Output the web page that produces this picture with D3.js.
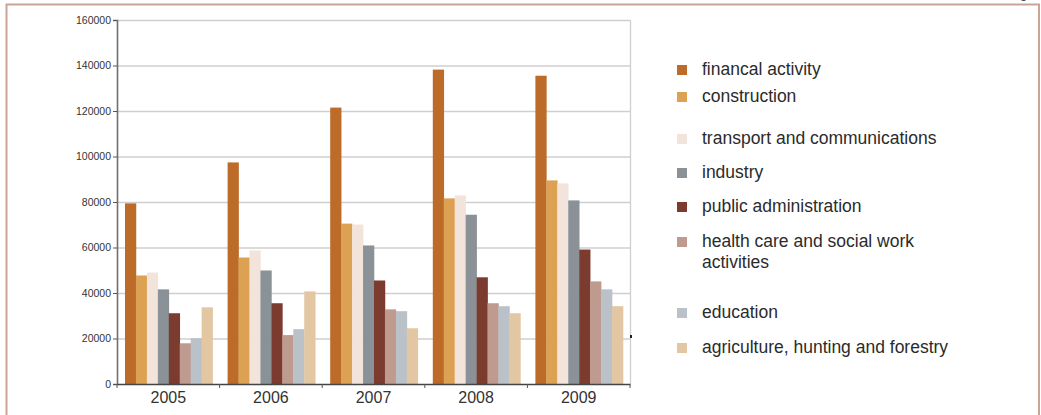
<!DOCTYPE html>
<html><head><meta charset="utf-8">
<script src="https://cdn.jsdelivr.net/npm/d3@7"></script>
<style>
html,body{margin:0;padding:0;background:#fff;}
svg{display:block;font-family:"Liberation Sans",Arial,sans-serif;}
</style></head>
<body><svg id="c" width="1041" height="415"></svg>
<script>
const years = ["2005","2006","2007","2008","2009"];
const seriesNames = ["financal activity","construction","transport and communications","industry","public administration","health care and social work activities","education","agriculture, hunting and forestry"];
const seriesColors = ["#BC6C28","#DDA153","#F3E4DB","#8A9197","#7B3B2E","#BF9B8F","#BAC1C8","#E3C6A2"];
const financial = [79400, 97400, 121500, 138200, 135500];
const construction = [47700, 55600, 70500, 81600, 89500];
const transport = [49000, 58700, 70100, 82900, 88200];
const industry = [41600, 49900, 60900, 74400, 80700];
const publicAdmin = [31100, 35500, 45500, 46900, 59100];
const health = [17900, 21500, 32800, 35500, 45100];
const education = [20100, 24100, 32000, 34200, 41600];
const agriculture = [33700, 40700, 24500, 31100, 34200];
const yTicks = [0,20000,40000,60000,80000,100000,120000,140000,160000];

const seriesValues = [financial, construction, transport, industry, publicAdmin, health, education, agriculture];

(function(){
const svg = d3.select("#c");

// outer frame
svg.append("rect").attr("x",6.5).attr("y",4.5).attr("width",1032.5).attr("height",420)
  .attr("fill","none").attr("stroke","#C9A497").attr("stroke-width",2);
svg.append("text").attr("x",1020).attr("y",-2).attr("font-size",13).attr("fill","#333").text("g");

const pLeft = 117, pRight = 630, pTop = 20, pBottom = 384;
const x0 = d3.scaleBand().domain(years).range([pLeft, pRight]).paddingInner(0).paddingOuter(0);
const x1 = d3.scaleBand().domain(d3.range(seriesNames.length)).range([8, x0.bandwidth()-7]).padding(0);
const y = d3.scaleLinear().domain([0,160000]).range([pBottom, pTop]);

// gridlines
svg.append("g").selectAll("line").data(yTicks.slice(1)).join("line")
  .attr("x1",pLeft).attr("x2",pRight).attr("y1",d=>y(d)+0.5).attr("y2",d=>y(d)+0.5)
  .attr("stroke","#cfcfcf").attr("stroke-width",1.3);
// right border
svg.append("line").attr("x1",pRight+0.5).attr("x2",pRight+0.5).attr("y1",pTop).attr("y2",pBottom)
  .attr("stroke","#cfcfcf").attr("stroke-width",1.3);

// bars
const g = svg.append("g");
years.forEach((yr,i)=>{
  seriesValues.forEach((vals,s)=>{
    g.append("rect")
      .attr("x", x0(yr)+x1(s))
      .attr("width", x1.bandwidth()+0.3)
      .attr("y", y(vals[i]))
      .attr("height", pBottom - y(vals[i]))
      .attr("fill", seriesColors[s]);
  });
});

// y axis
const yAxis = d3.axisLeft(y).tickValues(yTicks).tickSize(4).tickPadding(2).tickFormat(d3.format("d"));
const ya = svg.append("g").attr("transform",`translate(${pLeft},0)`).call(yAxis);
ya.select(".domain").attr("stroke","#707070").attr("stroke-width",1.6);
ya.selectAll(".tick line").attr("stroke","#555");
ya.selectAll(".tick text").attr("font-size",10.5).attr("fill","#333").attr("font-family","Liberation Sans, Arial, sans-serif");

// x axis
const xAxis = d3.axisBottom(x0).tickSize(0).tickPadding(8);
const xa = svg.append("g").attr("transform",`translate(0,${pBottom})`).call(xAxis);
xa.select(".domain").attr("stroke","#444").attr("stroke-width",1.4);
xa.selectAll(".tick text").attr("font-size",16).attr("fill","#333").attr("font-family","Liberation Sans, Arial, sans-serif");
// category boundary ticks
svg.append("g").selectAll("line").data(years.concat(["end"])).join("line")
  .attr("x1",d=> d==="end"? pRight : x0(d)).attr("x2",d=> d==="end"? pRight : x0(d))
  .attr("y1",pBottom).attr("y2",pBottom+4).attr("stroke","#555").attr("stroke-width",1);

// small mark at right
svg.append("rect").attr("x",630).attr("y",335).attr("width",2).attr("height",3).attr("fill","#222");

// legend
const legendY = [70, 97, 139, 173, 207, 242, 313, 348];
const lg = svg.append("g");
seriesNames.forEach((name,i)=>{
  lg.append("rect").attr("x",677).attr("y",legendY[i]-5).attr("width",10).attr("height",10).attr("fill",seriesColors[i]);
  const t = lg.append("text").attr("x",702).attr("y",legendY[i]+5).attr("font-size",17.5).attr("fill","#2b2b2b");
  if (name === "health care and social work activities") {
    t.append("tspan").attr("x",702).text("health care and social work");
    t.append("tspan").attr("x",702).attr("dy",21).text("activities");
  } else t.text(name);
});
})();
</script></body></html>
